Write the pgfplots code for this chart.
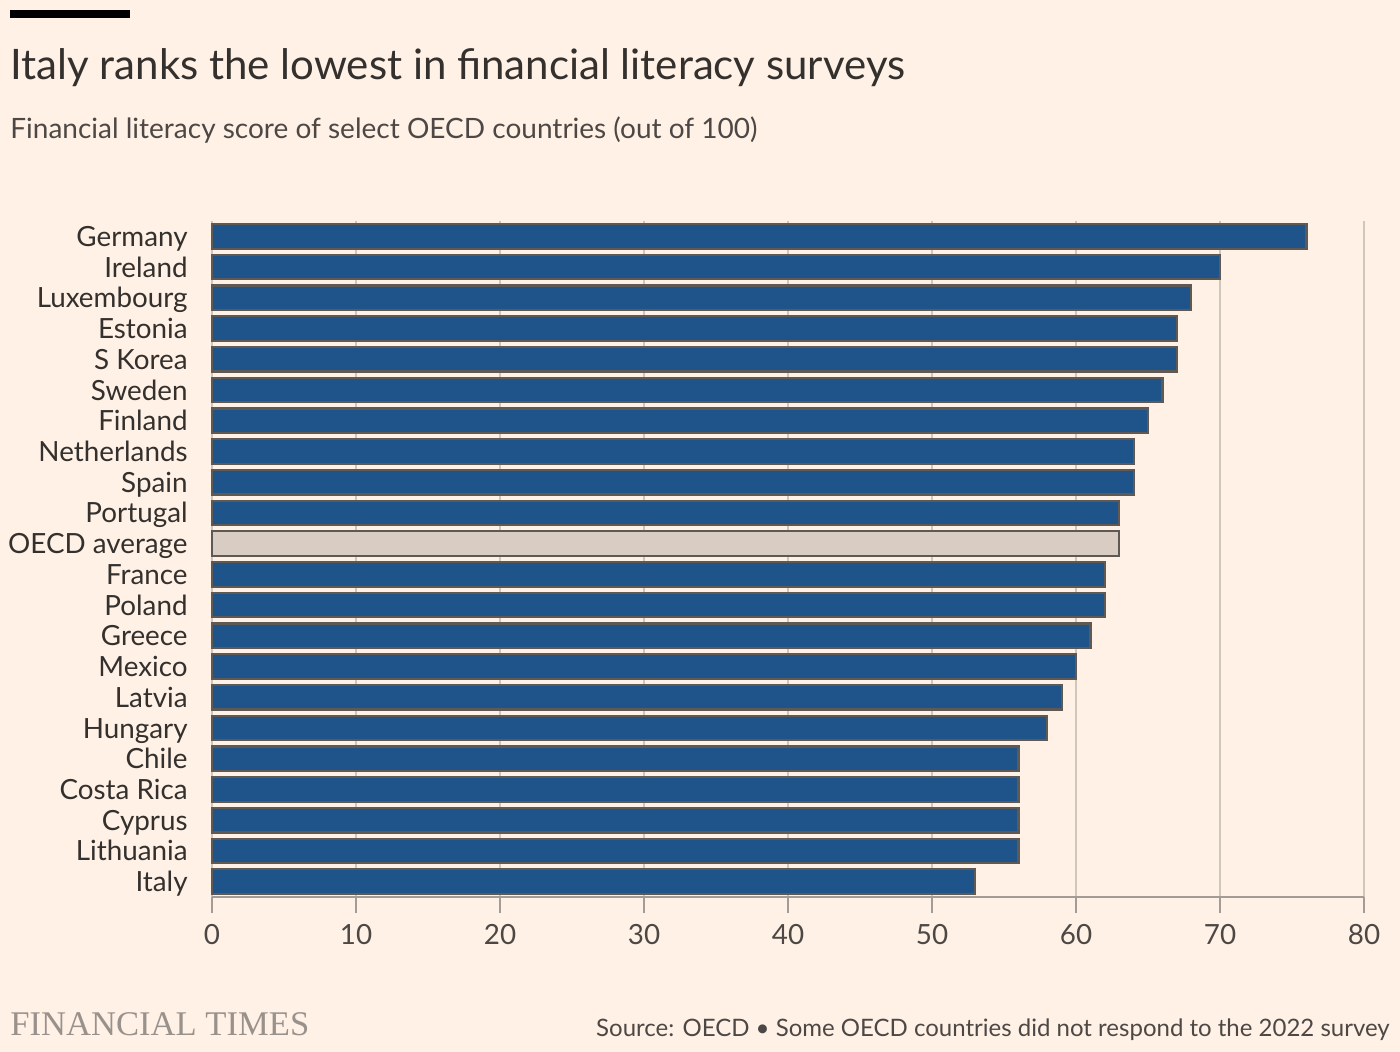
\documentclass[border=0pt]{standalone}
\usepackage{pgfplots}
\pgfplotsset{compat=1.18}
\usepackage{fontspec}
\setmainfont{Lato}
\newfontfamily\ftserif{Liberation Serif}
\definecolor{bg}{HTML}{FFF1E5}
\definecolor{barblue}{HTML}{1F548B}
\definecolor{baredge}{HTML}{5E5955}
\definecolor{oecd}{HTML}{D9CCC3}
\definecolor{gridc}{HTML}{CFC6BE}
\definecolor{axisc}{HTML}{A39C96}
\definecolor{txt}{HTML}{33302E}
\definecolor{subtxt}{HTML}{4D4845}
\definecolor{ftgray}{HTML}{99918C}
\begin{document}
\begin{tikzpicture}
\fill[bg] (0pt,0pt) rectangle (700pt,-526pt);
\useasboundingbox (0pt,0pt) rectangle (700pt,-526pt);
\fill[black] (5pt,-5pt) rectangle (65pt,-9pt);
\node[anchor=base west, inner sep=0pt, text=txt] at (5pt,-40pt) {\fontsize{21}{26}\selectfont Italy ranks the lowest in financial literacy surveys};
\node[anchor=base west, inner sep=0pt, text=subtxt] at (5pt,-69.5pt) {\fontsize{14}{17}\selectfont Financial literacy score of select OECD countries (out of 100)};
\node[anchor=base west, inner sep=0pt, text=ftgray] at (5pt,-517.5pt) {\fontsize{17.3}{20}\selectfont\ftserif FINANCIAL TIMES};
\node[anchor=base east, inner sep=0pt, text=subtxt] at (695pt,-518pt) {\fontsize{12}{14}\selectfont Source: OECD \textbullet\ Some OECD countries did not respond to the 2022 survey};
\begin{axis}[
  at={(106pt,-448.5pt)}, anchor=south west,
  width=576pt, height=338pt, scale only axis,
  xmin=0, xmax=80, ymin=-0.5, ymax=21.5,
  y dir=reverse,
  xbar, bar width=0.8, bar shift=0pt,
  axis x line*=bottom, axis y line*=left,
  x axis line style={-, draw=axisc, line width=1pt},
  y axis line style={draw=none},
  xtick={0,10,...,80},
  xmajorgrids, grid style={draw=gridc, line width=1pt},
  tick align=outside, major tick length=8pt,
  xtick style={draw=axisc, line width=1pt},
  ytick={0,...,21},
  ytick style={draw=none},
  yticklabels={Germany,Ireland,Luxembourg,Estonia,S Korea,Sweden,Finland,Netherlands,Spain,Portugal,OECD average,France,Poland,Greece,Mexico,Latvia,Hungary,Chile,Costa Rica,Cyprus,Lithuania,Italy},
  yticklabel style={font=\fontsize{13.9}{15}\selectfont, text=txt, anchor=base east, inner sep=0pt, xshift=-4pt, yshift=-5pt},
  xticklabel style={font=\fontsize{13.9}{15}\selectfont, text=subtxt, yshift=-2pt},
  /pgf/number format/assume math mode=true,
  axis background/.style={fill=bg},
  clip=false,
]
\addplot[fill=barblue, draw=baredge, line width=1.1pt] coordinates {
(76,0) (70,1) (68,2) (67,3) (67,4) (66,5) (65,6) (64,7) (64,8) (63,9)
(62,11) (62,12) (61,13) (60,14) (59,15) (58,16) (56,17) (56,18) (56,19) (56,20) (53,21)};
\addplot[fill=oecd, draw=baredge, line width=1.1pt] coordinates {(63,10)};
\end{axis}
\end{tikzpicture}
\end{document}
